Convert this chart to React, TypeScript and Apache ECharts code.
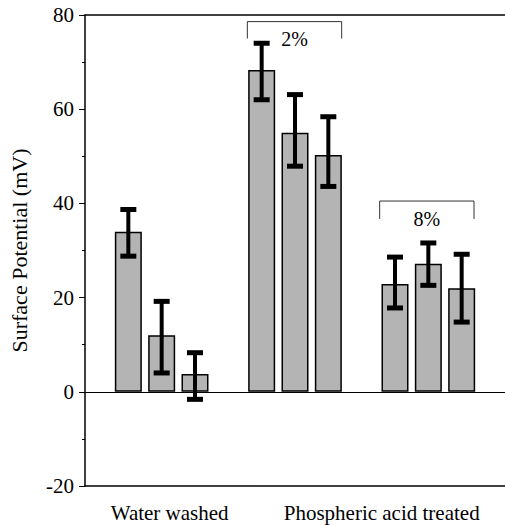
import React, { useEffect, useRef } from "react";
import * as echarts from "echarts";

const groupLabels = ["Water washed", "Phospheric acid treated"];
const groupLabelPositions = [1.24, 7.6];
const barPositions = [0, 1, 2, 4, 5, 6, 8, 9, 10];
const barValues = [34, 12, 3.8, 68.3, 55, 50.3, 22.9, 27.2, 22];
const errLow = [28.8, 4.0, -1.6, 62.0, 47.9, 43.6, 17.8, 22.6, 14.8];
const errHigh = [38.7, 19.2, 8.3, 74.0, 63.1, 58.4, 28.6, 31.6, 29.2];
const bracketLabels = ["2%", "8%"];
const bracketStart = [3.57, 7.54];
const bracketEnd = [6.4, 10.37];
const bracketTop = [78.6, 40.5];
const bracketBottom = [75.0, 36.7];
const bracketTextY = [75.0, 36.6];
const yTicks = { min: -20, max: 80, interval: 20 };

const FONT = "Times New Roman, Liberation Serif, Tinos, DejaVu Serif, serif";

export default function App() {
  const ref = useRef<HTMLDivElement>(null);
  useEffect(() => {
    if (!ref.current) return;
    const chart = echarts.init(ref.current, null, { renderer: "svg" });
    const xMin = -1.3;
    const xMax = 11.3;
    chart.setOption({
      animation: false,
      textStyle: { fontFamily: FONT },
      grid: { left: 83, right: 0, top: 15, bottom: 39 },
      xAxis: [
        {
          type: "value",
          min: xMin,
          max: xMax,
          position: "bottom",
          splitLine: { show: false },
          axisTick: { show: false },
          axisLine: { show: true, onZero: false, lineStyle: { color: "#000", width: 1.5 } },
          axisLabel: {
            customValues: groupLabelPositions,
            formatter: (v: number) => {
              let best = 0;
              groupLabelPositions.forEach((p, i) => {
                if (Math.abs(p - v) < Math.abs(groupLabelPositions[best] - v)) best = i;
              });
              return groupLabels[best];
            },
            color: "#000",
            fontFamily: FONT,
            fontSize: 21,
            margin: 16,
          },
        },
        {
          type: "value",
          min: xMin,
          max: xMax,
          position: "top",
          splitLine: { show: false },
          axisTick: { show: false },
          axisLabel: { show: false },
          axisLine: { show: true, onZero: false, lineStyle: { color: "#000", width: 1.5 } },
        },
      ],
      yAxis: {
        type: "value",
        min: yTicks.min,
        max: yTicks.max,
        interval: yTicks.interval,
        name: "Surface Potential (mV)",
        nameLocation: "middle",
        nameRotate: 90,
        nameGap: 55,
        nameTextStyle: { color: "#000", fontFamily: FONT, fontSize: 22 },
        splitLine: { show: false },
        axisLine: { show: true, onZero: false, lineStyle: { color: "#000", width: 1.5 } },
        axisTick: { show: true, length: 6, lineStyle: { color: "#000", width: 1 } },
        minorTick: { show: true, splitNumber: 2, length: 3, lineStyle: { color: "#000", width: 1 } },
        axisLabel: { color: "#000", fontFamily: FONT, fontSize: 21, margin: 11 },
      },
      series: [
        {
          type: "bar",
          xAxisIndex: 0,
          barWidth: 27,
          data: barPositions.map((p, i) => [p, barValues[i]]),
          itemStyle: { color: "#b4b4b4", borderColor: "#000", borderWidth: 1.5 },
          markLine: {
            silent: true,
            symbol: "none",
            label: { show: false },
            lineStyle: { color: "#000", width: 1, type: "solid" },
            data: [{ yAxis: 0 }],
          },
          z: 2,
        },
        {
          type: "custom",
          xAxisIndex: 0,
          z: 5,
          data: barPositions.map((p, i) => [p, errLow[i], errHigh[i]]),
          renderItem: (params: any, api: any) => {
            const x = api.value(0);
            const lo = api.coord([x, api.value(1)]);
            const hi = api.coord([x, api.value(2)]);
            const capW = 16;
            const capH = 5;
            return {
              type: "group",
              children: [
                {
                  type: "rect",
                  shape: { x: hi[0] - 2, y: hi[1], width: 4, height: lo[1] - hi[1] },
                  style: { fill: "#000" },
                },
                {
                  type: "rect",
                  shape: { x: hi[0] - capW / 2, y: hi[1] - capH / 2, width: capW, height: capH },
                  style: { fill: "#000" },
                },
                {
                  type: "rect",
                  shape: { x: lo[0] - capW / 2, y: lo[1] - capH / 2, width: capW, height: capH },
                  style: { fill: "#000" },
                },
              ],
            };
          },
        },
        {
          type: "custom",
          xAxisIndex: 0,
          z: 5,
          data: bracketLabels.map((l, i) => [bracketStart[i], bracketEnd[i], bracketTop[i], bracketBottom[i], bracketTextY[i]]),
          renderItem: (params: any, api: any) => {
            const i = params.dataIndex;
            const a = api.coord([api.value(0), api.value(3)]);
            const b = api.coord([api.value(0), api.value(2)]);
            const c = api.coord([api.value(1), api.value(2)]);
            const d = api.coord([api.value(1), api.value(3)]);
            const t = api.coord([(api.value(0) + api.value(1)) / 2, api.value(4)]);
            return {
              type: "group",
              children: [
                {
                  type: "polyline",
                  shape: { points: [a, b, c, d] },
                  style: { stroke: "#333", lineWidth: 1, fill: null },
                },
                {
                  type: "text",
                  x: t[0],
                  y: t[1],
                  style: {
                    text: bracketLabels[i],
                    fill: "#000",
                    fontFamily: FONT,
                    fontSize: 20,
                    align: "center",
                    verticalAlign: "middle",
                  },
                },
              ],
            };
          },
        },
      ],
    });
    return () => chart.dispose();
  }, []);
  return (
    <div
      ref={ref}
      style={{ position: "absolute", left: 0, top: 0, width: 505, height: 525 }}
    />
  );
}
